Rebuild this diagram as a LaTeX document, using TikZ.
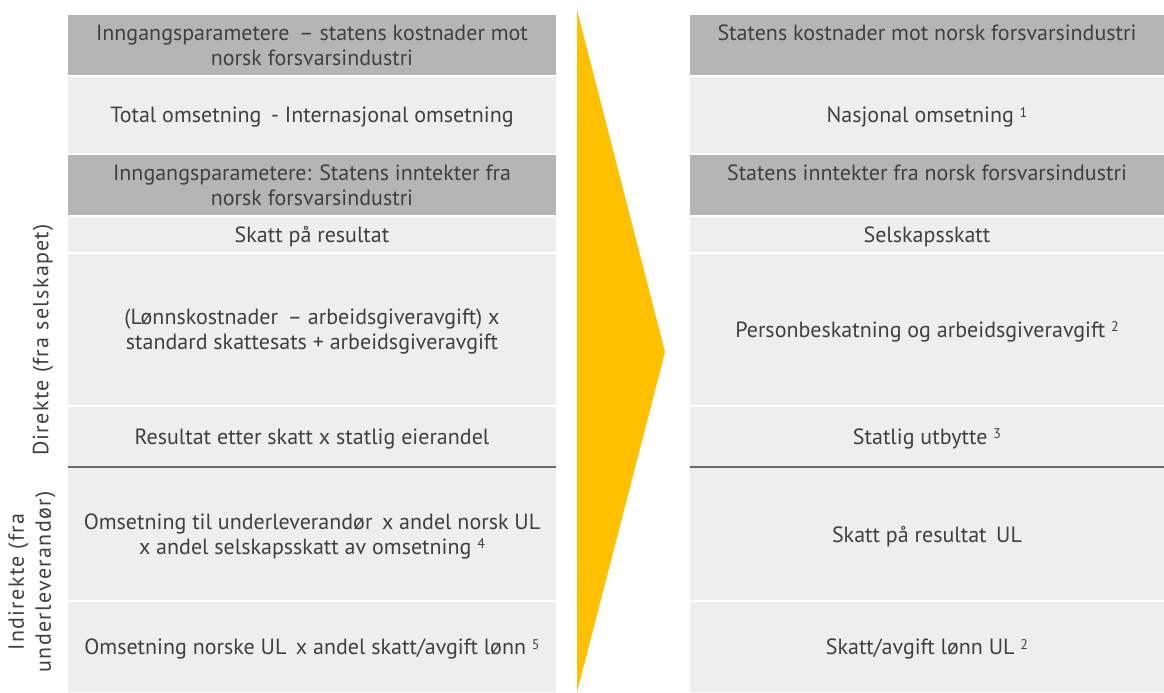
\documentclass[tikz,border=0pt]{standalone}
\usepackage{fontspec}
\setmainfont{PT Sans}
\usetikzlibrary{positioning}
\definecolor{hdrgray}{RGB}{181,181,181}
\definecolor{cellgray}{RGB}{238,238,238}
\definecolor{txtgray}{RGB}{64,64,64}
\definecolor{eyyellow}{RGB}{255,192,0}
\definecolor{rulegray}{RGB}{105,105,105}
\tikzset{
	cell/.style={rectangle, fill=cellgray, text=txtgray, align=center, inner sep=0pt, outer sep=0pt, text depth=0pt, font=\fontsize{11}{12.5}\selectfont},
	hdr/.style={cell, fill=hdrgray},
	leftcol/.style={minimum width=244pt},
	rightcol/.style={minimum width=237pt},
	side/.style={text=txtgray, align=center, rotate=90, font=\fontsize{11}{13.5}\selectfont\addfontfeature{LetterSpace=6}},
}

\begin{document}
\begin{tikzpicture}[x=0.5pt, y=-0.5pt]
	  \useasboundingbox (0,0) rectangle (1164,692);
	  \fill[eyyellow] (577,10) -- (665,352) -- (577,692) -- cycle;
	  \node[hdr, leftcol, minimum height=30pt] (kostL) at (312,45) {Inngangsparametere \,-- statens kostnader mot\\norsk forsvarsindustri};
	  \node[cell, leftcol, minimum height=38pt, below=1pt of kostL] (omsL) {Total omsetning \,- Internasjonal omsetning};
	  \node[hdr, leftcol, minimum height=30pt, below=1pt of omsL] (inntL) {Inngangsparametere: Statens inntekter fra\\norsk forsvarsindustri};
	  \node[cell, leftcol, minimum height=17.5pt, below=1pt of inntL] (skattL) {Skatt på resultat};
	  \node[cell, leftcol, minimum height=75.5pt, below=1pt of skattL] (lonnL) {(Lønnskostnader \,-- arbeidsgiveravgift) x\\standard skattesats + arbeidsgiveravgift};
	  \node[cell, leftcol, minimum height=29.5pt, below=1pt of lonnL] (utbL) {Resultat etter skatt x statlig eierandel};
	  \node[cell, leftcol, minimum height=66pt, below=1pt of utbL] (ulL) {Omsetning til underleverandør \,x andel norsk UL\\x andel selskapsskatt av omsetning {\scriptsize\raisebox{0.8ex}{4}}};
	  \node[cell, leftcol, minimum height=45pt, below=1pt of ulL] (ullonnL) {Omsetning norske UL \,x andel skatt/avgift lønn {\scriptsize\raisebox{0.8ex}{5}}};
	  \node[hdr, rightcol, minimum height=30pt, right=67pt of kostL] (kostR) {Statens kostnader mot norsk forsvarsindustri\\ \strut};
	  \node[cell, rightcol, minimum height=38pt, right=67pt of omsL] (omsR) {Nasjonal omsetning {\scriptsize\raisebox{0.8ex}{1}}};
	  \node[hdr, rightcol, minimum height=30pt, right=67pt of inntL] (inntR) {Statens inntekter fra norsk forsvarsindustri\\ \strut};
	  \node[cell, rightcol, minimum height=17.5pt, right=67pt of skattL] (skattR) {Selskapsskatt};
	  \node[cell, rightcol, minimum height=75.5pt, right=67pt of lonnL] (lonnR) {Personbeskatning og arbeidsgiveravgift {\scriptsize\raisebox{0.8ex}{2}}};
	  \node[cell, rightcol, minimum height=29.5pt, right=67pt of utbL] (utbR) {Statlig utbytte {\scriptsize\raisebox{0.8ex}{3}}};
	  \node[cell, rightcol, minimum height=66pt, right=67pt of ulL] (ulR) {Skatt på resultat \,UL};
	  \node[cell, rightcol, minimum height=45pt, right=67pt of ullonnL] (ullonnR) {Skatt/avgift lønn UL {\scriptsize\raisebox{0.8ex}{2}}};
	  \draw[rulegray, line width=1pt] ([yshift=0.5pt]ulL.north west) -- ([yshift=0.5pt]ulL.north east);
	  \draw[rulegray, line width=1pt] ([yshift=0.5pt]ulR.north west) -- ([yshift=0.5pt]ulR.north east);
	  \node[side] (direkte) at (43,340) {Direkte (fra selskapet)};
	  \node[side] (indirekte) at (32,582) {Indirekte (fra\\underleverandør)};
	\end{tikzpicture}
\end{document}
